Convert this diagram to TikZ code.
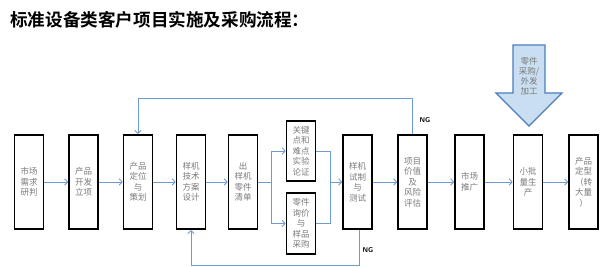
\documentclass[tikz,border=0pt]{standalone}
\usepackage{fontspec}
\setmainfont{Noto Sans CJK SC}
\newfontfamily\cjkbold{Noto Sans CJK SC}[BoldFont={* Bold}]
\usetikzlibrary{arrows.meta}
\definecolor{lineblue}{HTML}{6F9BD3}
\definecolor{arrowfill}{HTML}{C9DFF1}
\definecolor{arrowedge}{HTML}{4A7EBB}
\definecolor{txtgray}{HTML}{7A7A7A}
\tikzset{
  stepbox/.style={draw=black, line width=1.6pt, minimum width=29pt, minimum height=94.5pt,
    inner sep=0pt, align=center, font=\fontsize{8.5pt}{10.5pt}\selectfont, text=txtgray},
  halfbox/.style={stepbox, minimum height=60.5pt},
  flow/.style={draw=lineblue, line width=0.9pt, -{Straight Barb[length=3pt,width=6.5pt]}},
  plain/.style={draw=lineblue, line width=0.9pt},
  nglabel/.style={font=\sffamily\bfseries\fontsize{7pt}{8pt}\selectfont, text=black, inner sep=0pt}
}
\begin{document}
\begin{tikzpicture}[x=1pt,y=-1pt]
\useasboundingbox (0,0) rectangle (600,266);
\node[anchor=west, inner sep=0pt, font=\cjkbold\bfseries\fontsize{17.6pt}{20pt}\selectfont] (title) at (10,20) {标准设备类客户项目实施及采购流程：};

\node[stepbox] (b1) at (29,182) {市场\\需求\\研判};
\node[stepbox] (b2) at (83.5,182) {产品\\开发\\立项};
\node[stepbox] (b3) at (138,182) {产品\\定位\\与\\策划};
\node[stepbox] (b4) at (191,182) {样机\\技术\\方案\\设计};
\node[stepbox] (b5) at (243,182) {出\\样机\\零件\\清单};
\node[halfbox] (b6) at (301,151) {关键\\点和\\难点\\实验\\论证};
\node[halfbox] (b7) at (301,223.5) {零件\\询价\\与\\样品\\采购};
\node[stepbox] (b8) at (357.5,182) {样机\\试制\\与\\测试};
\node[stepbox] (b9) at (412.5,182) {项目\\价值\\及\\风险\\评估};
\node[stepbox] (b10) at (469.5,182) {市场\\推广};
\node[stepbox] (b11) at (528,182) {小批\\量生\\产};
\node[stepbox] (b12) at (583.5,182) {产品\\定型\\（转\\大量\\）};

\draw[flow] (b1) -- (b2);
\draw[flow] (b2) -- (b3);
\draw[flow] (b3) -- (b4);
\draw[flow] (b4) -- (b5);
\coordinate (sp) at (271,182);
\draw[plain] (b5.east) -- (sp);
\draw[flow] (sp) |- (b6.west);
\draw[flow] (sp) |- (b7.west);
\coordinate (mg) at (330,182);
\draw[plain] (b6.east) -| (mg);
\draw[plain] (b7.east) -| (mg);
\draw[flow] (mg) -- (b8.west);
\draw[flow] (b8) -- (b9);
\draw[flow] (b9) -- (b10);
\draw[flow] (b10) -- (b11);
\draw[flow] (b11) -- (b12);

\coordinate (t9) at (412.5,98);
\coordinate (t3) at (138,98);
\draw[flow] (b9.north) -- (t9) -- (t3) -- (b3.north);
\node[nglabel] (ng1) at (425,120) {NG};

\coordinate (d8) at (359,265);
\coordinate (d4) at (191,265);
\draw[flow] (b8.south -| d8) -- (d8) -- (d4) -- (b4.south);
\node[nglabel] (ng2) at (368,250) {NG};

\draw[fill=arrowfill, draw=arrowedge, line width=1.3pt, line join=miter]
  (513,45) -- (545,45) -- (545,93) -- (562,93) -- (529,126) -- (496,93) -- (513,93) -- cycle;
\node[align=center, inner sep=0pt, text=txtgray, font=\fontsize{8.5pt}{10pt}\selectfont] (arr) at (529,76) {零件\\采购/\\外发\\加工};
\end{tikzpicture}
\end{document}
